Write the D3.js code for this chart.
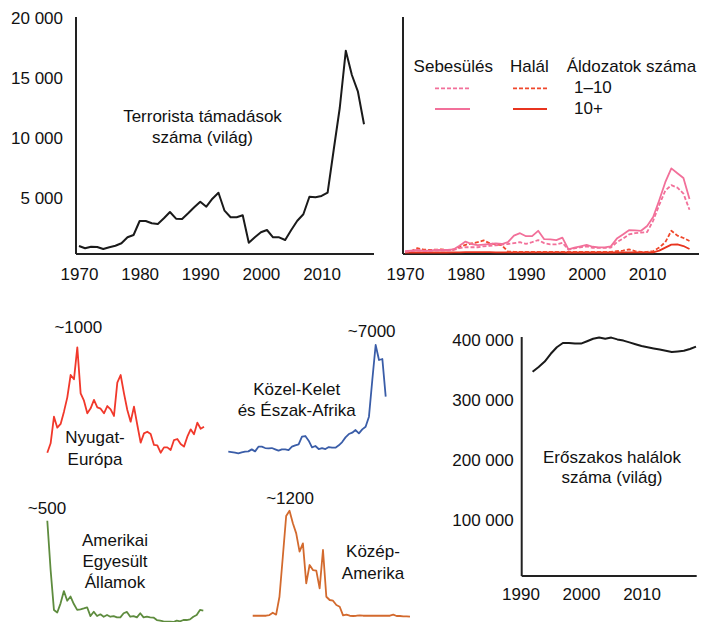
<!DOCTYPE html>
<html>
<head>
<meta charset="utf-8">
<script src="https://cdn.jsdelivr.net/npm/d3@7"></script>
<style>
  body { margin: 0; background: #fff; }
  svg text { font-family: "Liberation Sans", Arial, sans-serif; font-size: 17px; fill: #111; }
</style>
</head>
<body>
<script>

// ---- data ----
const years = [1970, 1971, 1972, 1973, 1974, 1975, 1976, 1977, 1978, 1979,
  1980, 1981, 1982, 1983, 1984, 1985, 1986, 1987, 1988, 1989,
  1990, 1991, 1992, 1993, 1994, 1995, 1996, 1997, 1998, 1999,
  2000, 2001, 2002, 2003, 2004, 2005, 2006, 2007, 2008, 2009,
  2010, 2011, 2012, 2013, 2014, 2015, 2016, 2017];

// terrorista támadások (világ)
const attacks = [1000, 808, 942, 917, 750, 892, 1025, 1225, 1725, 1917,
  3083, 3083, 2892, 2833, 3308, 3833, 3275, 3250, 3725, 4225,
  4692, 4275, 4942, 5442, 3942, 3392, 3392, 3558, 1275, 1725,
  2142, 2333, 1725, 1725, 1500, 2333, 3108, 3642, 5108, 5058,
  5167, 5442, 9000, 12500, 17275, 15250, 13858, 11142];

// sebesülés / halál, áldozatok száma 1–10 ill. 10+
const injury1to10 = [100, 150, 200, 150, 150, 200, 200, 200, 250, 400,
  480, 480, 480, 560, 600, 640, 700, 750, 820, 900,
  760, 900, 1080, 820, 720, 720, 850, 280, 380, 480,
  550, 420, 420, 420, 450, 900, 1200, 1550, 1650, 1700,
  1750, 2700, 4000, 5200, 5650, 5450, 4950, 3600];
const injury10plus = [150, 200, 250, 200, 200, 250, 250, 250, 300, 600,
  950, 750, 650, 700, 750, 800, 750, 900, 1450, 1650,
  1400, 1400, 1850, 1150, 1140, 1080, 1275, 300, 450, 560,
  670, 520, 475, 475, 550, 1200, 1550, 1900, 1880, 1850,
  2250, 3000, 4400, 5900, 7050, 6650, 6250, 4500];
const death1to10 = [50, 150, 400, 300, 250, 280, 300, 250, 280, 500,
  680, 800, 900, 1050, 800, 720, 650, 120, 100, 100,
  100, 100, 100, 100, 100, 100, 100, 100, 100, 100,
  100, 100, 100, 100, 100, 150, 200, 300, 150, 100,
  100, 150, 450, 900, 1850, 1450, 1250, 1000];
const death10plus = [30, 40, 60, 40, 40, 40, 40, 40, 50, 60,
  80, 80, 80, 80, 80, 60, 60, 60, 50, 50,
  50, 50, 50, 50, 50, 50, 50, 40, 40, 40,
  40, 40, 40, 40, 40, 40, 50, 60, 50, 50,
  50, 60, 200, 450, 700, 720, 580, 330];

// régiók
const westernEurope = [117, 196, 419, 327, 358, 461, 581, 768, 732, 1000,
  614, 553, 447, 489, 559, 497, 486, 447, 508, 480,
  425, 704, 768, 614, 475, 377, 503, 349, 201, 279,
  293, 274, 182, 179, 117, 162, 162, 140, 223, 232,
  190, 168, 251, 313, 271, 369, 318, 335];
const middleEast = [313, 292, 251, 209, 272, 313, 334, 460, 334, 627,
  627, 543, 522, 543, 460, 376, 460, 460, 418, 627,
  710, 773, 1254, 1296, 1003, 585, 669, 480, 543, 480,
  606, 564, 564, 711, 920, 1212, 1421, 1505, 1672, 1463,
  1714, 1881, 2508, 4807, 7000, 6060, 6123, 3762];
const usa = [468, 243, 61, 49, 91, 147, 103, 122, 88, 61,
  64, 68, 73, 33, 53, 33, 41, 30, 38, 30,
  33, 27, 27, 46, 52, 30, 33, 27, 46, 27,
  30, 27, 26, 15, 12, 9, 8, 8, 6, 12,
  9, 15, 15, 18, 30, 38, 61, 58];
const centralAmerica = [11, 11, 11, 11, 11, 19, 45, 23, 226, 679,
  1140, 1200, 1057, 943, 736, 830, 377, 585, 528, 521,
  321, 755, 226, 189, 181, 132, 113, 15, 23, 11,
  8, 11, 15, 11, 11, 11, 11, 11, 11, 11,
  11, 11, 23, 8, 8, 4, 4, 0];

// erőszakos halálok (világ)
const deathYears = [1992, 1993, 1994, 1995, 1996, 1997, 1998, 1999, 2000, 2001,
  2002, 2003, 2004, 2005, 2006, 2007, 2008, 2009, 2010, 2011,
  2012, 2013, 2014, 2015, 2016, 2017, 2018, 2019];
const violentDeaths = [347000, 355000, 364000, 377000, 388000, 395000, 395000, 394000, 394000, 398000,
  402000, 404000, 402000, 404000, 401000, 399000, 396000, 393000, 390000, 388000,
  386000, 384000, 382000, 380000, 381000, 382000, 385000, 389000];

const yearTicks = [1970, 1980, 1990, 2000, 2010];
const attackTicks = [5000, 10000, 15000, 20000];
const deathYearTicks = [1990, 2000, 2010];
const deathTicks = [100000, 200000, 300000, 400000];

// ---- setup ----
const svg = d3.select("body").append("svg")
  .attr("width", 703)
  .attr("height", 622);

const hu = d3.formatLocale({decimal: ",", thousands: " ", grouping: [3], currency: ["", " Ft"]});
const fmt = hu.format(",d");

function frame(x0, x1, yTop, yBase) {
  svg.append("line")
    .attr("x1", x0).attr("x2", x0).attr("y1", yTop).attr("y2", yBase)
    .attr("stroke", "#222").attr("stroke-width", 2);
  svg.append("line")
    .attr("x1", x0).attr("x2", x1).attr("y1", yBase).attr("y2", yBase)
    .attr("stroke", "#222").attr("stroke-width", 2);
}

function xAxisLabels(scale, ticks, yBase, pad) {
  const g = svg.append("g")
    .attr("transform", "translate(0," + yBase + ")")
    .call(d3.axisBottom(scale).tickValues(ticks).tickFormat(d3.format("d")).tickSize(0).tickPadding(pad));
  g.select(".domain").remove();
  g.selectAll("text").attr("font-size", null).attr("font-family", null);
}

function yAxisLabels(scale, ticks, xPos, pad) {
  const g = svg.append("g")
    .attr("transform", "translate(" + xPos + ",0)")
    .call(d3.axisLeft(scale).tickValues(ticks).tickFormat(fmt).tickSize(0).tickPadding(pad));
  g.select(".domain").remove();
  g.selectAll("text").attr("font-size", null).attr("font-family", null);
}

function label(lines, x, y, anchor, lh) {
  const t = svg.append("text")
    .attr("text-anchor", anchor || "middle");
  lines.forEach((s, i) => {
    t.append("tspan").attr("x", x).attr("y", y + i * (lh || 21)).text(s);
  });
}

function series(xs, vals, x, y, color, dash, width) {
  const line = d3.line()
    .x((d, i) => x(xs[i]))
    .y(d => y(d));
  svg.append("path")
    .datum(vals)
    .attr("d", line)
    .attr("fill", "none")
    .attr("stroke", color)
    .attr("stroke-width", width || 2)
    .attr("stroke-linejoin", "round")
    .attr("stroke-dasharray", dash || null);
}

// ---- top left: attacks ----
const xTL = d3.scaleLinear().domain([1970, 2017]).range([79, 364]);
const yTL = d3.scaleLinear().domain([0, 20000]).range([258, 18]);
frame(76, 374, 17, 254);
yAxisLabels(yTL, attackTicks, 76, 13);
xAxisLabels(xTL, yearTicks, 254, 14);
series(years, attacks, xTL, yTL, "#1a1a1a", null, 2);
label(["Terrorista támadások", "száma (világ)"], 202.5, 121.5, "middle", 21);

// ---- top right: injuries / deaths ----
const xTR = d3.scaleLinear().domain([1970, 2017]).range([405, 689.5]);
const yTR = d3.scaleLinear().domain([0, 20000]).range([253, 13]);
frame(403, 699, 17, 254);
xAxisLabels(xTR, yearTicks, 254, 13.5);

const pink = "#f2709a", red = "#f0482c", darkRed = "#e8341f";
series(years, death10plus, xTR, yTR, darkRed, null, 1.8);
series(years, death1to10, xTR, yTR, red, "4,2", 1.8);
series(years, injury1to10, xTR, yTR, pink, "4,2", 1.8);
series(years, injury10plus, xTR, yTR, pink, null, 1.8);

// legend
label(["Sebesülés"], 453.3, 72);
label(["Halál"], 529.3, 72);
label(["Áldozatok száma"], 566.7, 72, "start");
label(["1–10"], 574, 93.3, "start");
label(["10+"], 574, 114, "start");
const legendRows = [
  {x1: 435, x2: 470, y: 88.3, color: pink, dash: "4,2"},
  {x1: 435, x2: 470, y: 109, color: pink, dash: null},
  {x1: 513, x2: 547, y: 88.3, color: red, dash: "4,2"},
  {x1: 513, x2: 547, y: 109, color: darkRed, dash: null}
];
svg.selectAll(".legend-line")
  .data(legendRows)
  .enter().append("line")
  .attr("class", "legend-line")
  .attr("x1", d => d.x1).attr("x2", d => d.x2)
  .attr("y1", d => d.y).attr("y2", d => d.y)
  .attr("stroke", d => d.color)
  .attr("stroke-width", 1.8)
  .attr("stroke-dasharray", d => d.dash);

// ---- small multiples ----
const xWE = d3.scaleLinear().domain([1970, 2017]).range([47.3, 204]);
const yWE = d3.scaleLinear().domain([0, 1000]).range([466.7, 347.3]);
series(years, westernEurope, xWE, yWE, "#f1382b", null, 1.8);
label(["~1000"], 78.3, 332.7);
label(["Nyugat-", "Európa"], 95, 443.3, "middle", 21.7);

const xME = d3.scaleLinear().domain([1970, 2017]).range([228.3, 385.7]);
const yME = d3.scaleLinear().domain([0, 7000]).range([456.7, 345]);
series(years, middleEast, xME, yME, "#3a5da8", null, 1.8);
label(["~7000"], 371.7, 337.3);
label(["Közel-Kelet", "és Észak-Afrika"], 296.7, 395, "middle", 21);

const xUS = d3.scaleLinear().domain([1970, 2017]).range([47.3, 203.3]);
const yUS = d3.scaleLinear().domain([0, 500]).range([623.3, 513.7]);
series(years, usa, xUS, yUS, "#5e8c3e", null, 1.8);
label(["~500"], 47, 514);
label(["Amerikai", "Egyesült", "Államok"], 115, 546, "middle", 21.2);

const xCA = d3.scaleLinear().domain([1970, 2017]).range([252.7, 410]);
const yCA = d3.scaleLinear().domain([0, 1200]).range([616.7, 510.7]);
series(years, centralAmerica, xCA, yCA, "#d36a2e", null, 1.8);
label(["~1200"], 290, 504.3);
label(["Közép-", "Amerika"], 373, 556.5, "middle", 22.5);

// ---- bottom right: violent deaths ----
const xBR = d3.scaleLinear().domain([1990, 2019]).range([520.5, 696]);
const yBR = d3.scaleLinear().domain([0, 400000]).range([580, 340]);
frame(521.7, 696.7, 337, 576);
yAxisLabels(yBR, deathTicks, 521.7, 8);
xAxisLabels(xBR, deathYearTicks, 576, 12);
series(deathYears, violentDeaths, xBR, yBR, "#1a1a1a", null, 2);
label(["Erőszakos halálok", "száma (világ)"], 612, 462.7, "middle", 20);

</script>
</body>
</html>
